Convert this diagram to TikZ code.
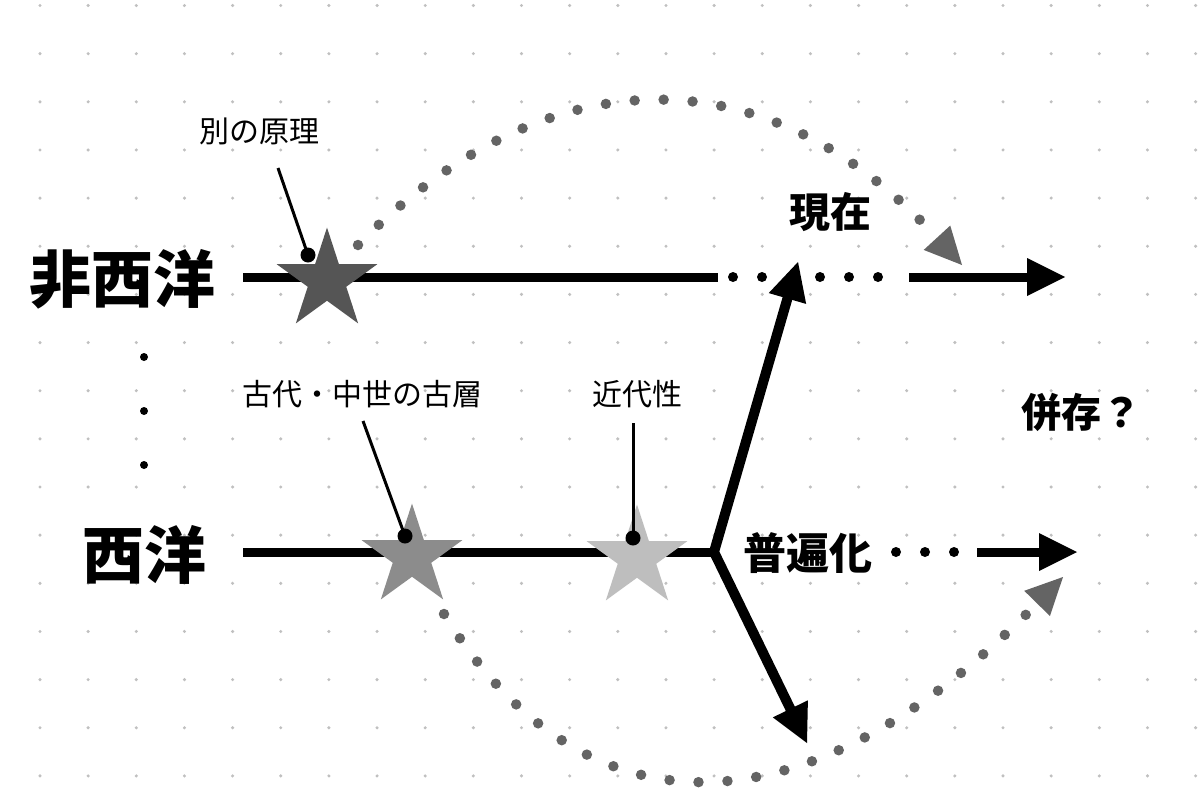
\documentclass[tikz,border=0pt]{standalone}
\usepackage{fontspec}
\setmainfont{Noto Sans CJK JP}
\usetikzlibrary{shapes.geometric,calc}
\definecolor{gridc}{RGB}{192,192,192}
\definecolor{curvec}{RGB}{100,100,100}
\definecolor{stara}{RGB}{85,85,85}
\definecolor{starb}{RGB}{140,140,140}
\definecolor{starc}{RGB}{190,190,190}
\newcommand\arrowtri[5]{\fill[#1] (#3) -- ($(#3)!#4!(#2)!#5!90:(#3)$) -- ($(#3)!#4!(#2)!#5!-90:(#3)$) -- cycle;}
\begin{document}
\begin{tikzpicture}[x=1pt,y=-1pt,
  mainline/.style={line width=9pt},
  branch/.style={line width=10pt, line join=miter},
  dotrow/.style={line width=10pt, line cap=round, dash pattern=on 0pt off 29pt},
  arcline/.style={curvec, line width=10.5pt, line cap=round, dash pattern=on 0pt off 29pt},
  starnode/.style={star, star points=5, star point ratio=2.618, minimum size=106pt, inner sep=0pt},
  pinline/.style={line width=3pt},
  big/.style={inner sep=0pt, font=\fontsize{62}{62}\selectfont\bfseries},
  mid/.style={inner sep=0pt, font=\fontsize{43}{43}\selectfont\bfseries},
  small/.style={inner sep=0pt, font=\fontsize{30}{30}\selectfont},
]
\fill[white] (0,0) rectangle (1200,809);
\useasboundingbox (0,0) rectangle (1200,809);
% grid
\foreach \i in {0,...,24}{\foreach \j in {0,...,16}{\fill[gridc] ({40+48.15*\i},{5.5+48.15*\j}) circle (1.7pt);}}

% labels
\node[big] (nw) at (122,279) {非西洋};
\node[big] (w) at (144,555) {西洋};
\node[mid, font=\fontsize{41}{41}\selectfont\bfseries] (now) at (830,212) {現在};
\node[mid] (univ) at (808,553) {普遍化};
\node[mid, font=\fontsize{40}{40}\selectfont\bfseries] (coex) at (1081,412) {併存？};
\node[small] (lbla) at (259,131) {別の原理};
\node[small] (lblb) at (362,394) {古代・中世の古層};
\node[small] (lblc) at (637,394) {近代性};

% vertical dots
\foreach \y in {357,411,465}{\fill (144,\y) circle (4pt);}

% coordinates
\coordinate (nwS) at (243,277);
\coordinate (nwE) at (718,277);
\coordinate (nwD1) at (733,277);
\coordinate (nwD2) at (880,277);
\coordinate (nwA) at (909,277);
\coordinate (nwT) at (1065,277);
\coordinate (wS) at (243,552);
\coordinate (J) at (714,552);
\coordinate (wD1) at (896,552);
\coordinate (wD2) at (956,552);
\coordinate (wA) at (977,552);
\coordinate (wT) at (1077,552);
\coordinate (upT) at (798,262);
\coordinate (dnT) at (807,743);

% curved dotted connectors
\coordinate (ta) at (358,245);
\coordinate (tc1) at (540,60);
\coordinate (tc2) at (760,45);
\coordinate (ttip) at (962,265);
\draw[arcline] (ta) .. controls (tc1) and (tc2) .. ($(ttip)!37pt!(tc2)$);
\arrowtri{curvec}{tc2}{ttip}{37pt}{18pt}
\coordinate (ba) at (444,614);
\coordinate (bc1) at (580,835);
\coordinate (bc2) at (800,845);
\coordinate (btip) at (1063,577);
\draw[arcline] (ba) .. controls (bc1) and (bc2) .. ($(btip)!37pt!(bc2)$);
\arrowtri{curvec}{bc2}{btip}{37pt}{18pt}

% main lines
\draw[mainline] (nwS) -- (nwE);
\draw[dotrow] (nwD1) -- (nwD2);
\draw[mainline] (nwA) -- ($(nwT)!36pt!(nwA)$);
\arrowtri{black}{nwA}{nwT}{38pt}{19pt}
\draw[mainline] (wS) -- (J);
\draw[dotrow] (wD1) -- (wD2);
\draw[mainline] (wA) -- ($(wT)!36pt!(wA)$);
\arrowtri{black}{wA}{wT}{38pt}{19pt}
\draw[branch] ($(upT)!36pt!(J)$) -- (J) -- ($(dnT)!36pt!(J)$);
\arrowtri{black}{J}{upT}{38pt}{19.5pt}
\arrowtri{black}{J}{dnT}{38pt}{19.5pt}

% stars
\node[starnode, fill=stara] (s0) at (327,280.5) {};
\node[starnode, fill=starb] (s1) at (412,556.5) {};
\node[starnode, fill=starc] (s2) at (637,557.5) {};

% pins
\coordinate (pa) at (278,168);
\coordinate (pad) at (308,255);
\coordinate (pb) at (363,421);
\coordinate (pbd) at (405,536);
\coordinate (pc) at (633,423);
\coordinate (pcd) at (633,538);
\draw[pinline] (pa) -- (pad);
\fill (pad) circle (7.5pt);
\draw[pinline] (pb) -- (pbd);
\fill (pbd) circle (7.5pt);
\draw[pinline] (pc) -- (pcd);
\fill (pcd) circle (7.5pt);
\end{tikzpicture}
\end{document}
